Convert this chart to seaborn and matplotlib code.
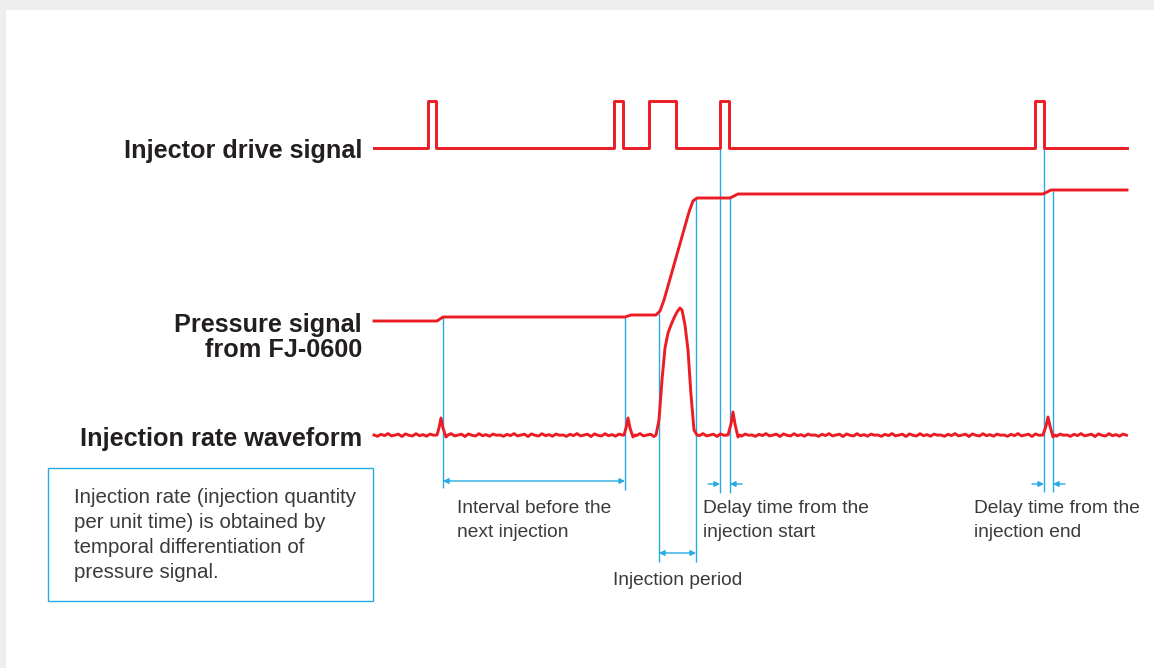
import numpy as np
import pandas as pd
import matplotlib
matplotlib.use('Agg')
import matplotlib.pyplot as plt
from matplotlib.patches import Rectangle
import seaborn as sns

# Diagrama esquemático: tempo em unidades do desenho (eixo x), nível em y (invertido)
VERMELHO = '#ec1c24'
AZUL = '#27aae1'
TEXTO = '#3a3a3a'

# Sinal de acionamento do injetor (pulsos)
pulso_inicio = [428, 614, 649, 720, 1035]
pulso_fim = [436, 623, 676, 729, 1044]
acion_baixo = 148
acion_alto = 101
t_ini, t_fim = 374, 1127

# Sinal de pressão do FJ-0600
pressao_t = [374, 437, 443, 625, 631, 656, 660, 664, 689, 693, 697, 730, 738, 1043, 1051, 1127]
pressao_y = [321, 321, 317, 317, 315, 315, 311, 300, 212, 201, 198, 198, 194, 194, 190, 190]

# Taxa de injeção: linha de base + picos
taxa_base = 435
ruido = [0, 1.3, -0.7, 0.6, -1.4, 0.9, 0.1, -0.8, 1.5, -1.1, 0.3, 1.0, -1.3, 0.7, -0.4, 1.2, -0.9, 0.2]
picos_t = [[437, 439, 441, 443, 446, 448],
           [624, 626, 628, 630, 633, 635],
           [656, 659, 662, 665, 668, 671, 674, 677, 680, 682, 685, 688, 691, 694, 697],
           [728, 731, 733, 735, 738, 740],
           [1043, 1046, 1048, 1050, 1053, 1055]]
picos_y = [[435, 428, 418, 428, 437, 435],
           [435, 428, 418, 428, 437, 435],
           [435, 420, 380, 348, 333, 325, 318, 312, 308, 310, 325, 350, 395, 430, 435],
           [435, 424, 412, 424, 437, 435],
           [435, 426, 417, 426, 437, 435]]

# Linhas de medição (azuis)
marca_x = [443, 625, 659, 696, 720, 730, 1044, 1053]
marca_topo = [317, 317, 313, 198, 148, 196, 148, 191]
marca_base = [488, 490, 562, 562, 493, 493, 492, 492]

# Rótulos (linhas e linhas de base)
rotulos = ['Injector drive signal', 'Pressure signal', 'from FJ-0600', 'Injection rate waveform']
rotulos_y = [158, 332, 357, 446]
notas = [('Interval before the', 457, 513), ('next injection', 457, 537),
         ('Delay time from the', 703, 513), ('injection start', 703, 537),
         ('Delay time from the', 974, 513), ('injection end', 974, 537),
         ('Injection period', 613, 585)]
caixa_linhas = ['Injection rate (injection quantity', 'per unit time) is obtained by',
                'temporal differentiation of', 'pressure signal.']
caixa_y = [503, 528, 553, 578]

# ---- montar séries ----
acion_t, acion_y = [t_ini], [acion_baixo]
for a, b in zip(pulso_inicio, pulso_fim):
    acion_t += [a, a, b, b]
    acion_y += [acion_baixo, acion_alto, acion_alto, acion_baixo]
acion_t.append(t_fim)
acion_y.append(acion_baixo)

grade = np.arange(t_ini, t_fim + 1, 3.5)
mascara = np.ones(len(grade), bool)
for pt in picos_t:
    mascara &= ~((grade >= pt[0] - 1) & (grade <= pt[-1] + 1))
rb = np.resize(ruido, len(grade))
taxa_t = np.concatenate([grade[mascara]] + [np.array(p, float) for p in picos_t])
taxa_y = np.concatenate([taxa_base + rb[mascara]] + [np.array(p, float) for p in picos_y])
ordem = np.argsort(taxa_t, kind='stable')
df_taxa = pd.DataFrame({'t': taxa_t[ordem], 'y': taxa_y[ordem]})

# ---- figura ----
fig = plt.figure(figsize=(11.54, 6.68), dpi=100, facecolor='#eeeeee')
ax = fig.add_axes([6 / 1154, 0, 1148 / 1154, 658 / 668])
ax.set_facecolor('white')
ax.set_xlim(6, 1154)
ax.set_ylim(668, 10)
ax.axis('off')
ax.add_patch(Rectangle((6, 10), 1148, 658, color='white', zorder=0))

ax.vlines(marca_x, marca_topo, marca_base, color=AZUL, lw=1.0, zorder=2)

lw = 2.1
sns.lineplot(x=acion_t, y=acion_y, sort=False, estimator=None, color=VERMELHO, lw=lw, ax=ax, zorder=3)
sns.lineplot(x=pressao_t, y=pressao_y, sort=False, estimator=None, color=VERMELHO, lw=lw, ax=ax, zorder=3)
sns.lineplot(data=df_taxa, x='t', y='y', sort=False, estimator=None, color=VERMELHO, lw=lw, ax=ax, zorder=3)
ax.set_xlabel('')
ax.set_ylabel('')

fonte = 'Liberation Sans'
for txt, y in zip(rotulos, rotulos_y):
    ax.text(362, y, txt, ha='right', va='baseline', fontsize=18.2, fontweight='bold',
            family=fonte, color='#231f20')

seta = dict(arrowstyle='<|-|>', color=AZUL, lw=1.0, mutation_scale=8, shrinkA=0, shrinkB=0)
ax.annotate('', xy=(443, 481), xytext=(625, 481), arrowprops=seta)
ax.annotate('', xy=(659, 553), xytext=(696, 553), arrowprops=seta)
seta1 = dict(arrowstyle='-|>', color=AZUL, lw=1.0, mutation_scale=8, shrinkA=0, shrinkB=0)
for a, b in [(708, 720), (742, 730), (1032, 1044), (1065, 1053)]:
    ax.annotate('', xy=(b, 484), xytext=(a, 484), arrowprops=seta1)

for txt, x, y in notas:
    ax.text(x, y, txt, fontsize=13.8, family=fonte, color=TEXTO, va='baseline')

ax.add_patch(Rectangle((48, 468), 325, 133, fill=False, edgecolor=AZUL, lw=1.0, zorder=2))
for txt, y in zip(caixa_linhas, caixa_y):
    ax.text(74, y, txt, fontsize=14.8, family=fonte, color=TEXTO, va='baseline')

fig.savefig('out.png', dpi=100, facecolor=fig.get_facecolor())
